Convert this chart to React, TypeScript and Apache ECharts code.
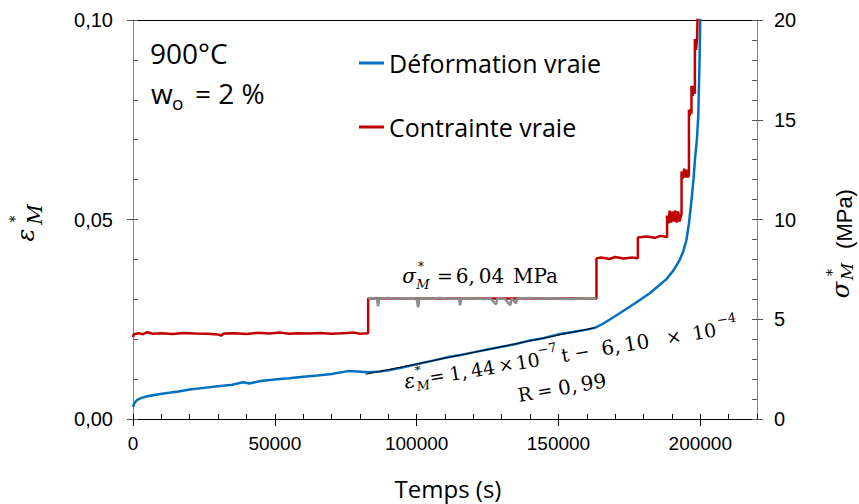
import React, { useEffect, useRef } from "react";
import * as echarts from "echarts";

// ---------- data ----------
const xMajorTicks = [0, 50000, 100000, 150000, 200000];
const strainMajorTicks = [0, 0.05, 0.1];
const stressMajorTicks = [0, 5, 10, 15, 20];

const legendNames = ["Déformation vraie", "Contrainte vraie"];

// true strain (left axis) : [time s, strain]
const strainData: number[][] = [
  [0, 0.003], [500, 0.004], [1500, 0.0048], [3000, 0.0053], [5000, 0.0057],
  [8000, 0.0061], [12000, 0.0065], [16000, 0.0069], [20000, 0.0074],
  [25000, 0.0078], [30000, 0.0082], [35000, 0.0086], [38800, 0.0092],
  [41000, 0.0089], [45000, 0.0095], [50000, 0.0099], [55000, 0.0102],
  [60000, 0.0106], [65000, 0.0109], [70000, 0.0113], [75800, 0.012],
  [79000, 0.0119], [83000, 0.0117], [87000, 0.0119], [90000, 0.0122],
  [94100, 0.0128], [100000, 0.0137], [105000, 0.0145], [111700, 0.0156],
  [116000, 0.0161], [120000, 0.0167], [125000, 0.0174], [130000, 0.0181],
  [135000, 0.0188], [140000, 0.0197], [145000, 0.0203], [150500, 0.0213],
  [155000, 0.0218], [160000, 0.0224], [163000, 0.0229], [166000, 0.024],
  [171600, 0.0265], [177000, 0.029], [182200, 0.0315], [185000, 0.0332],
  [188000, 0.035], [190500, 0.0372], [192700, 0.0398], [194000, 0.042],
  [195100, 0.0448], [196000, 0.049], [196900, 0.0548], [197600, 0.06],
  [198100, 0.0648], [198800, 0.07], [199300, 0.076], [199700, 0.0885],
  [200000, 0.1], [200200, 0.106],
];

// true stress (right axis) : [time s, MPa]
const stressData: number[][] = [
  [0, 4.1], [300, 4.25], [2000, 4.3], [3500, 4.25], [5000, 4.35], [7000, 4.27],
  [10000, 4.3], [14000, 4.26], [18000, 4.31], [22000, 4.28], [26000, 4.27],
  [30000, 4.24], [31000, 4.18], [32000, 4.28], [36000, 4.3], [40000, 4.26],
  [44000, 4.32], [48000, 4.28], [52000, 4.33], [55000, 4.27], [58000, 4.3],
  [62000, 4.28], [66000, 4.31], [70000, 4.27], [74000, 4.3], [78000, 4.33],
  [80000, 4.27], [82900, 4.3], [82900, 6.04], [163400, 6.04], [163400, 8.05],
  [165000, 8.1], [168000, 8.02], [170000, 8.12], [173000, 8.05], [176000, 8.1],
  [178000, 8.06], [178000, 9.1], [181000, 9.15], [184000, 9.08], [186000, 9.18],
  [188300, 9.12], [188300, 10.2], [188800, 9.8], [189200, 10.45], [189700, 9.85],
  [190200, 10.4], [190700, 9.9], [191200, 10.45], [191700, 9.85], [192200, 10.4],
  [192700, 9.9], [193400, 10.3], [193400, 12.4], [193800, 12.05], [194300, 12.55],
  [194800, 12.1], [195300, 12.5], [195700, 12.1], [196000, 12.3], [196000, 15.5],
  [196300, 15.2], [196600, 15.55], [196900, 15.3], [196900, 16.7], [197300, 16.2],
  [197700, 16.7], [198100, 16.3], [198100, 19.05], [198500, 18.5], [198900, 19.1],
  [199100, 20.6],
];

// stress plateau used for the mean value (grey)
const plateauData: number[][] = [
  [82900, 6.04], [84000, 6.06], [86000, 6.02], [86400, 5.65], [86800, 6.04],
  [90000, 6.06], [93000, 6.03], [96000, 6.05], [100000, 6.04], [100500, 5.6],
  [101000, 6.05], [105000, 6.03], [108000, 6.06], [111000, 6.04], [115000, 6.03],
  [115300, 5.7], [115700, 6.05], [120000, 6.04], [124000, 6.02], [126000, 6.05],
  [128000, 5.75], [128500, 6.04], [131000, 6.03], [133000, 5.7], [133500, 6.05],
  [135000, 5.8], [135500, 6.04], [140000, 6.06], [143000, 6.03], [146000, 6.05],
  [150000, 6.04], [155000, 6.02], [160000, 6.05], [163400, 6.04],
];

// linear fit of secondary creep
const fitData: number[][] = [
  [82000, 0.0112], [163000, 0.0229],
];

// ---------- styles ----------
const SANS = "Liberation Sans";
const TXT = "Open Sans";
const SERIF = "DejaVu Serif";
const AXIS_GREY = "#868686";
const TICK = "#555";
const ROT = (9.5 * Math.PI) / 180;
const TS = "\u2009"; // thin space after decimal comma (math typesetting)

const t = (text: string, x: number, y: number, size: number, extra: any = {}) => ({
  type: "text",
  x,
  y,
  silent: true,
  style: {
    text,
    fontSize: size,
    fontFamily: extra.fontFamily || SERIF,
    fontStyle: extra.fontStyle || "normal",
    fill: "#000",
    align: extra.align || "left",
    verticalAlign: "middle",
  },
});
const c = (text: string, x: number, y: number, size: number, extra: any = {}) =>
  t(text, x, y, size, { ...extra, align: "center" });

const noZero = { onZero: false };

export default function App() {
  const ref = useRef<HTMLDivElement>(null);

  useEffect(() => {
    if (!ref.current) return;
    const chart = echarts.init(ref.current, null, { renderer: "svg" });

    const tickLabel = { fontFamily: SANS, color: "#000" };

    const option: any = {
      animation: false,
      backgroundColor: "#fff",
      grid: { left: 133, top: 20, right: 102, bottom: 85, containLabel: false },
      legend: {
        orient: "vertical",
        left: 359,
        top: 48,
        padding: 0,
        itemWidth: 25,
        itemHeight: 3,
        itemGap: 34,
        icon: "rect",
        textStyle: { fontFamily: TXT, fontSize: 25, color: "#000", lineHeight: 30 },
        data: legendNames,
      },
      xAxis: [
        {
          type: "value",
          min: 0,
          max: 220000,
          interval: 10000,
          position: "bottom",
          axisLine: { ...noZero, show: true, lineStyle: { color: "#000", width: 1 } },
          axisTick: { show: true, inside: true, length: 5, lineStyle: { color: "#000" } },
          axisLabel: {
            ...tickLabel,
            fontSize: 19,
            margin: 15,
            formatter: (v: number) => (xMajorTicks.includes(v) ? String(v) : ""),
          },
          splitLine: { show: false },
        },
        {
          type: "value",
          min: 0,
          max: 220000,
          interval: 50000,
          position: "bottom",
          axisLine: { ...noZero, show: false },
          axisTick: { show: true, length: 7, customValues: xMajorTicks, lineStyle: { color: "#000" } },
          axisLabel: { show: false },
          splitLine: { show: false },
        },
        {
          type: "value",
          min: 0,
          max: 220000,
          position: "top",
          axisLine: { ...noZero, show: true, lineStyle: { color: "#000", width: 1 } },
          axisTick: { show: false },
          axisLabel: { show: false },
          splitLine: { show: false },
        },
      ],
      yAxis: [
        {
          type: "value",
          min: 0,
          max: 0.1,
          interval: 0.01,
          position: "left",
          axisLine: { ...noZero, show: true, lineStyle: { color: AXIS_GREY } },
          axisTick: { show: true, inside: true, length: 5, lineStyle: { color: TICK } },
          axisLabel: {
            ...tickLabel,
            fontSize: 20,
            margin: 20,
            formatter: (v: number) =>
              strainMajorTicks.some((m) => Math.abs(m - v) < 1e-9) ? v.toFixed(2).replace(".", ",") : "",
          },
          splitLine: { show: false },
        },
        {
          type: "value",
          min: 0,
          max: 0.1,
          interval: 0.05,
          position: "left",
          axisLine: { ...noZero, show: false },
          axisTick: { show: true, length: 6, customValues: strainMajorTicks, lineStyle: { color: TICK } },
          axisLabel: { show: false },
          splitLine: { show: false },
        },
        {
          type: "value",
          min: 0,
          max: 20,
          interval: 1,
          position: "right",
          axisLine: { ...noZero, show: true, lineStyle: { color: AXIS_GREY } },
          axisTick: { show: true, inside: true, length: 5, lineStyle: { color: TICK } },
          axisLabel: {
            ...tickLabel,
            fontSize: 20,
            margin: 17,
            formatter: (v: number) => (stressMajorTicks.includes(v) ? String(v) : ""),
          },
          splitLine: { show: false },
        },
        {
          type: "value",
          min: 0,
          max: 20,
          interval: 5,
          position: "right",
          axisLine: { ...noZero, show: false },
          axisTick: { show: true, length: 6, customValues: stressMajorTicks, lineStyle: { color: TICK } },
          axisLabel: { show: false },
          splitLine: { show: false },
        },
      ],
      series: [
        {
          name: legendNames[1],
          type: "line",
          xAxisIndex: 0,
          yAxisIndex: 2,
          data: stressData,
          showSymbol: false,
          symbol: "none",
          color: "#C00000",
          lineStyle: { color: "#C00000", width: 2.5 },
        },
        {
          name: "plateau",
          type: "line",
          xAxisIndex: 0,
          yAxisIndex: 2,
          data: plateauData,
          showSymbol: false,
          symbol: "none",
          color: "#8C8C8C",
          lineStyle: { color: "#8C8C8C", width: 2.5 },
        },
        {
          name: legendNames[0],
          type: "line",
          xAxisIndex: 0,
          yAxisIndex: 0,
          data: strainData,
          showSymbol: false,
          symbol: "none",
          color: "#0070C0",
          lineStyle: { color: "#0070C0", width: 2.5 },
        },
        {
          name: "fit",
          type: "line",
          xAxisIndex: 0,
          yAxisIndex: 0,
          data: fitData,
          showSymbol: false,
          symbol: "none",
          color: "#000",
          lineStyle: { color: "#000", width: 1 },
        },
      ],
      graphic: [
        t("900°C", 150, 52.5, 28, { fontFamily: TXT }),
        t("w", 151, 92.5, 28, { fontFamily: TXT }),
        t("o", 172, 102.6, 19, { fontFamily: TXT }),
        t("= 2 %", 195, 92.5, 28, { fontFamily: TXT }),
        t("Temps (s)", 448, 488, 24, { fontFamily: TXT, align: "center" }),
        // sigma annotation
        c("σ", 409, 275.5, 20, { fontStyle: "italic" }),
        c("*", 421, 267, 12),
        c("M", 423, 284, 13, { fontStyle: "italic" }),
        c("=", 445, 275.5, 19),
        c("6," + TS + "04", 480, 275.5, 20),
        c("MPa", 535.5, 275.5, 20),
        // fit equation
        {
          type: "group",
          x: 432,
          y: 377,
          rotation: ROT,
          children: [
            c("ε", -23, 0, 20, { fontStyle: "italic" }),
            c("*", -13, -9, 12),
            c("M", -10, 7, 13, { fontStyle: "italic" }),
            c("=", 5, 0, 18),
            c("1," + TS + "44", 40.5, 0, 19),
            c("×", 75, 0, 18),
            c("10", 97, 0, 19),
            c("−7", 118, -9, 13),
            c("t", 135, 0, 19),
            c("−", 152, 0, 18),
            c("6," + TS + "10", 196, 0, 20),
            c("×", 245, 0, 18),
            c("10", 276, 0, 19),
            c("−4", 300, -9, 13),
          ],
        },
        {
          type: "group",
          x: 518,
          y: 395,
          rotation: ROT,
          children: [
            c("R", 7, 0, 19),
            c("=", 27, 0, 18),
            c("0," + TS + "99", 65, 0, 20),
          ],
        },
        // left axis title
        {
          type: "group",
          x: 26,
          y: 235,
          rotation: Math.PI / 2,
          children: [
            c("ε", 0, 0, 24, { fontStyle: "italic" }),
            c("*", 16, -11, 14),
            c("M", 20.5, 9, 20, { fontStyle: "italic" }),
          ],
        },
        // right axis title
        {
          type: "group",
          x: 841,
          y: 290,
          rotation: Math.PI / 2,
          children: [
            c("σ", 0, 0, 24, { fontStyle: "italic" }),
            c("*", 17.5, -9, 14),
            c("M", 18.5, 6, 17, { fontStyle: "italic" }),
            c("(MPa)", 71, 3, 22, { fontFamily: SANS }),
          ],
        },
      ],
    };

    chart.setOption(option);
    return () => chart.dispose();
  }, []);

  return (
    <div
      ref={ref}
      style={{ position: "fixed", left: 0, top: 0, width: 859, height: 504, background: "#fff" }}
    />
  );
}
